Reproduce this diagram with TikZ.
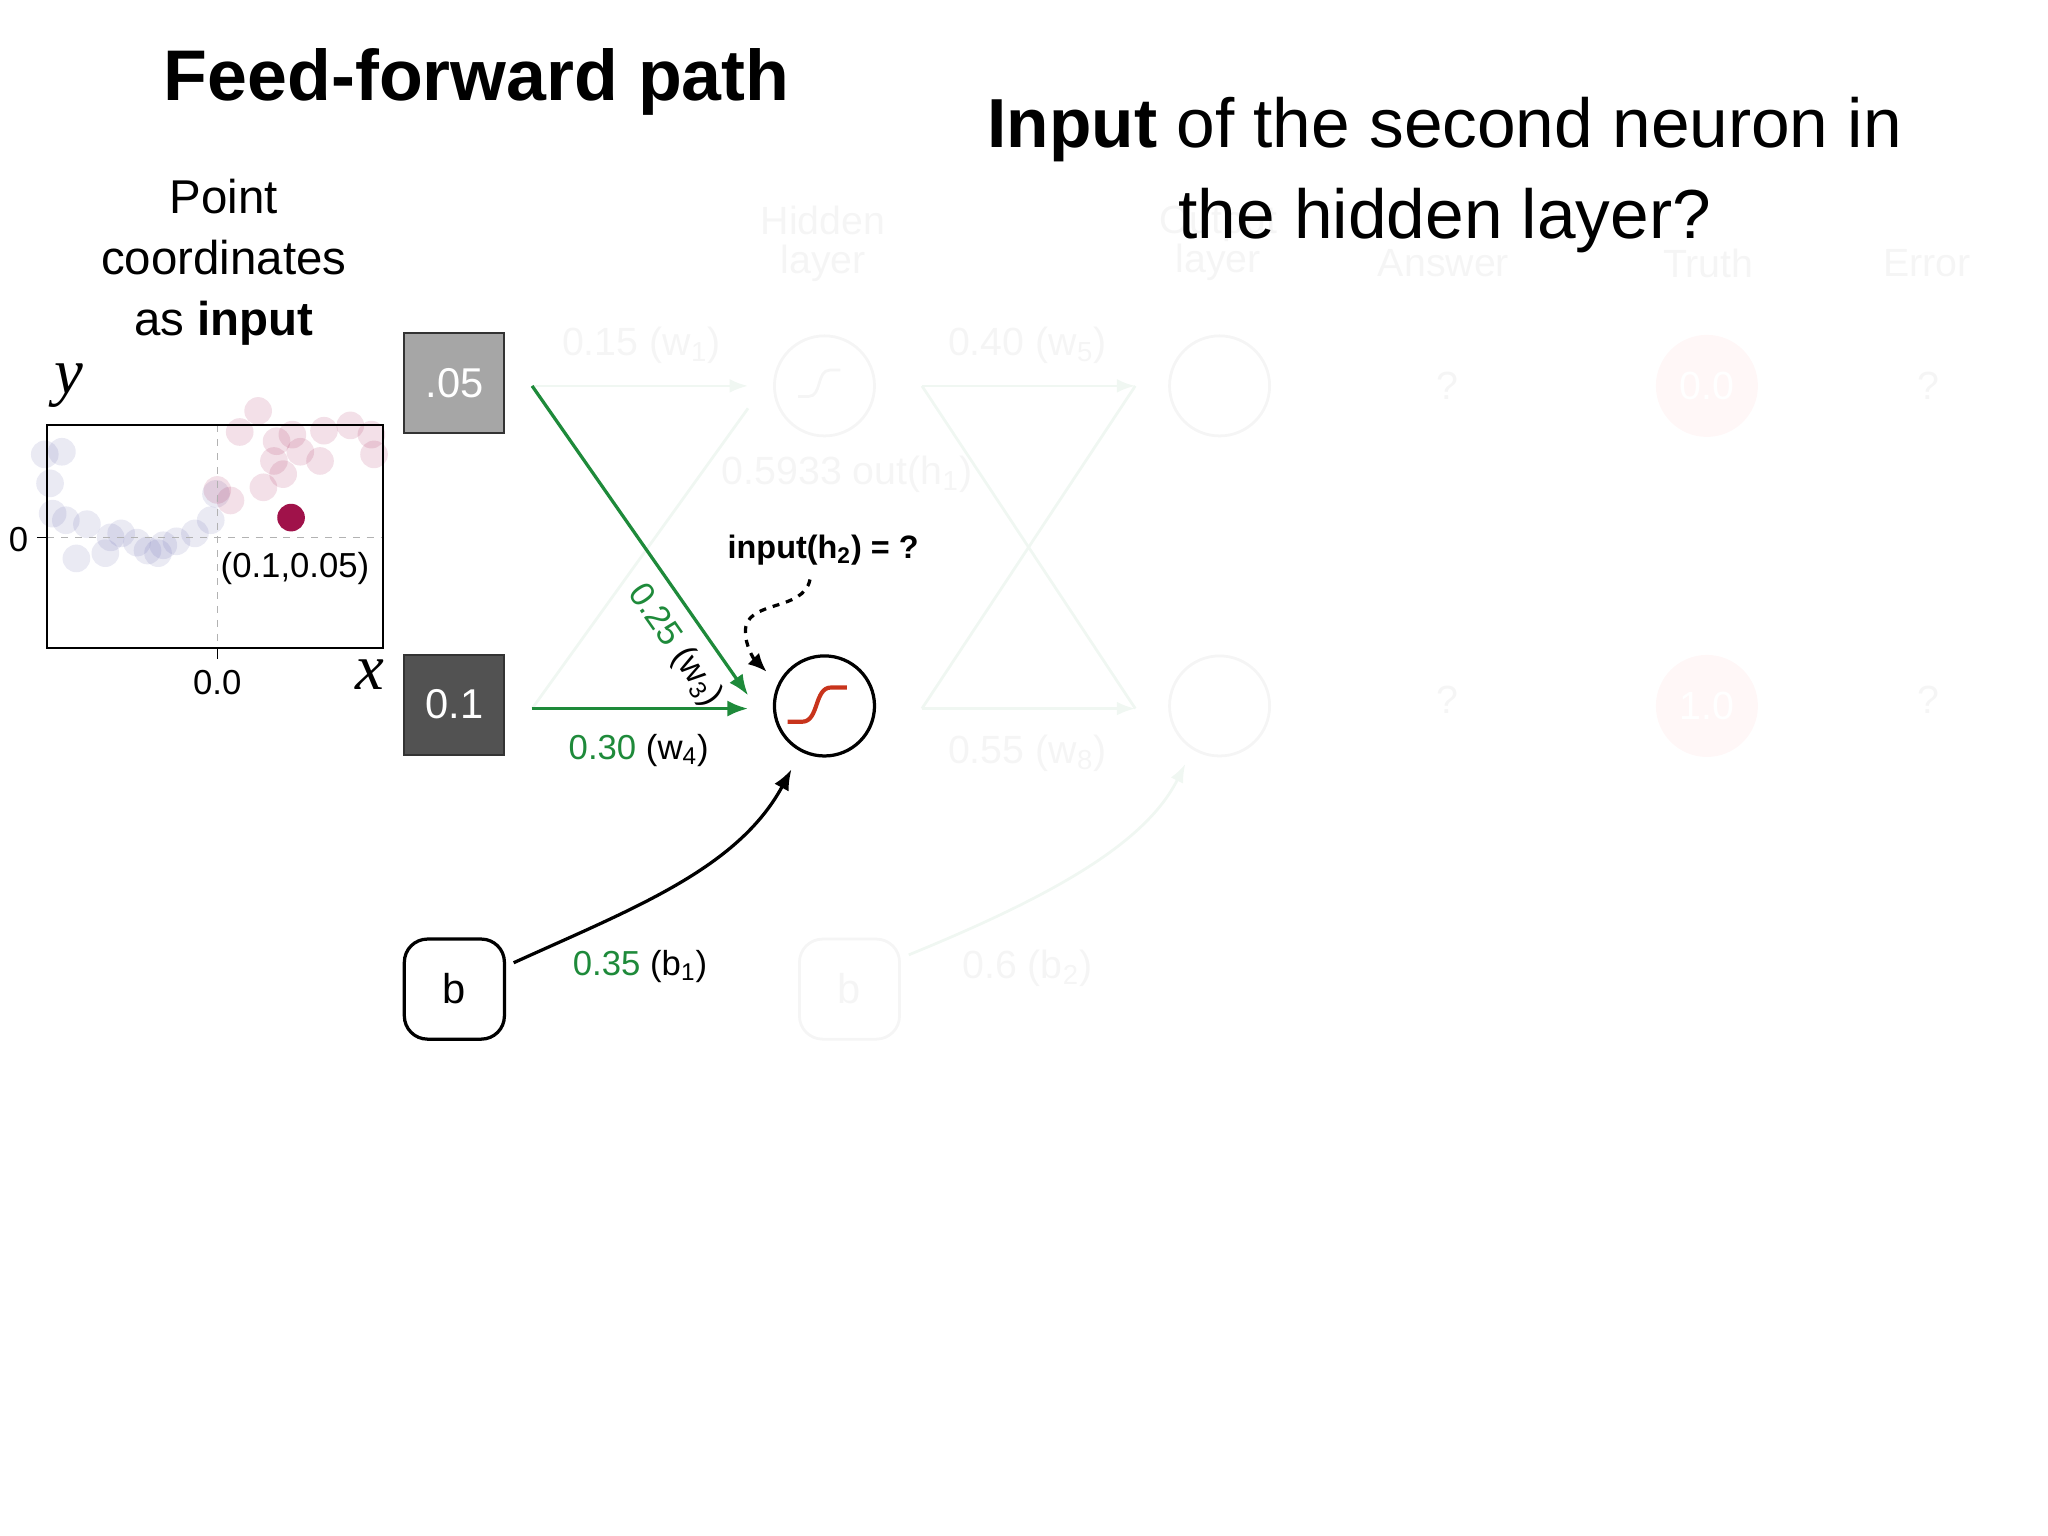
\documentclass[tikz,border=0pt]{standalone}
\usepackage{fontspec}
\setmainfont{Liberation Sans}
\usetikzlibrary{arrows.meta,calc}
\definecolor{gr}{HTML}{1E8A3A}
\definecolor{dred}{HTML}{A0124A}
\definecolor{sig}{HTML}{C8341C}
\definecolor{fade}{HTML}{F5F5F5}
\definecolor{fadeg}{HTML}{F0F7F2}
\newcommand{\fs}[1]{\fontsize{#1}{#1}\selectfont}
\tikzset{
 u/.style={x=0.02cm,y=-0.02cm},
 inbox/.style={draw=black!80,line width=0.8pt,minimum size=1.52cm,text=white,font=\fs{18}},
 neuron/.style={circle,draw,line width=1.4pt,minimum size=1.52cm},
 fneuron/.style={circle,draw=fade,line width=1.2pt,minimum size=1.52cm},
 garrow/.style={draw=gr,line width=1.4pt,-{Latex[length=9pt,width=7pt]}},
 farrow/.style={draw=fadeg,line width=1.2pt,-{Latex[length=8pt,width=6pt]}},
 lab/.style={font=\fs{15}},
 flab/.style={font=\fs{17},text=fade},
 dotp/.style={circle,fill=blue!30!gray,opacity=0.13,minimum size=0.42cm,inner sep=0},
 dotr/.style={circle,fill=dred,opacity=0.13,minimum size=0.42cm,inner sep=0},
}
\begin{document}
\begin{tikzpicture}[u]
\useasboundingbox (0,0) rectangle (1555,1166);
% faded background network
\node[flab,align=center] (hl) at (625,185) {Hidden\\layer};
\node[flab,align=center] (ol) at (925,185) {Output\\layer};
\node[flab] (ans) at (1096,200) {Answer};
\node[flab] (tru) at (1297,200) {Truth};
\node[flab] (err) at (1463,200) {Error};
\node[fneuron] (h1) at (626,293) {};
\draw[fade,line width=1.2pt] ($(h1)+(-20,8)$) -- ++(8,0) .. controls ++(10,0) and ++(-10,0) .. ++(16,-20) -- ++(8,0);
\node[fneuron] (o1) at (926,293) {};
\node[fneuron] (o2) at (926,536) {};
\node[flab] (q1) at (1099,293) {?};
\node[flab] (q2) at (1099,531) {?};
\node[flab] (q3) at (1464,293) {?};
\node[flab] (q4) at (1464,531) {?};
\node[circle,fill=red!3,minimum size=1.55cm,text=white,font=\fs{17}] (t1) at (1296,293) {0.0};
\node[circle,fill=red!3,minimum size=1.55cm,text=white,font=\fs{17}] (t2) at (1296,536) {1.0};
\node[draw=fade,rounded corners=10pt,line width=1.2pt,minimum size=1.52cm,font=\fs{18},text=fade] (b2) at (645,751) {b};
\coordinate (s1) at (404,293);
\coordinate (e1) at (568,293);
\draw[farrow] (s1) -- (e1);
\coordinate (s5) at (700,293); \coordinate (e5) at (862,293);
\coordinate (s8) at (700,538); \coordinate (e8) at (862,538);
\draw[farrow] (s5) -- (e5);
\draw[farrow] (s8) -- (e8);
\draw[fadeg,line width=1.2pt] (s5) -- (e8);
\draw[fadeg,line width=1.2pt] (s8) -- (e5);
\draw[fadeg,line width=1.2pt] (404,538) -- (568,310);
\draw[farrow] (690,725) .. controls (800,680) and (870,640) .. (900,580);
\node[flab] at (487,262) {0.15 (w\textsubscript{1})};
\node[flab] at (780,262) {0.40 (w\textsubscript{5})};
\node[flab] at (780,572) {0.55 (w\textsubscript{8})};
\node[flab] at (780,735) {0.6 (b\textsubscript{2})};
\node[flab] at (643,360) {0.5933 out(h\textsubscript{1})};
% titles
\node[font=\bfseries\fs{31}] (t) at (362,62) {Feed-forward path};
\node[font=\fs{30},align=center] (q) at (1097,133) {\textbf{Input} of the second neuron in\\[9pt]the hidden layer?};
\node[font=\fs{20.5},align=center] (pc) at (170,199) {Point\\[6pt]coordinates\\[6pt]as \textbf{input}};
% plot
\foreach \p in {(34,345),(47,343),(38,367),(40,390),(50,395),(66,398),(58,424),(80,420),(92,405),(104,412),(112,418),(124,414),(134,411),(148,405),(84,408),(120,420),(160,395),(164,375)}{\node[dotp] at \p {};}
\foreach \p in {(165,372),(175,380),(182,328),(196,312),(210,335),(222,330),(246,327),(266,323),(284,345),(243,350),(208,350),(200,370),(215,360),(228,343),(282,330)}{\node[dotr] at \p {};}
\draw[gray!60,dashed,line width=0.5pt] (36,408) -- (291,408);
\draw[gray!60,dashed,line width=0.5pt] (165,323) -- (165,492);
\draw[line width=0.9pt] (36,323) rectangle (291,492);
\draw[line width=0.7pt] (28,408) -- (36,408);
\draw[line width=0.7pt] (165,492) -- (165,500);
\node[font=\fs{15}] at (14,410) {0};
\node[font=\fs{15}] at (165,518) {0.0};
\node[font=\itshape\fs{28},inner sep=0] at (52,293) {\fontspec{Liberation Serif}y};
\node[font=\itshape\fs{28},inner sep=0] at (281,512) {\fontspec{Liberation Serif}x};
\node[circle,fill=dred,minimum size=0.42cm,inner sep=0] (pt) at (221,393) {};
\node[font=\fs{15}] at (224,432) {(0.1,0.05)};
% inputs
\node[inbox,fill=black!35] (i1) at (345,291) {.05};
\node[inbox,fill=black!68] (i2) at (345,535) {0.1};
\node[draw,line width=1.4pt,rounded corners=10pt,minimum size=1.52cm,font=\fs{18}] (b) at (345,751) {b};
% neuron
\node[neuron] (h2) at (626,536) {};
\draw[sig,line width=1.8pt] ($(h2)+(-28,12)$) -- ++(11,0) .. controls ++(13,0) and ++(-13,0) .. ++(22,-26) -- ++(12,0);
% connectors
\coordinate (a1) at (404,293);
\coordinate (a1e) at (568,528);
\coordinate (a2) at (404,538);
\coordinate (a2e) at (568,538);
\draw[garrow] (a1) -- node[pos=0.78,sloped,below,lab,text=gr,inner sep=6pt] {0.25 \textcolor{black}{(w\textsubscript{3})}} (a1e);
\draw[garrow] (a2) -- (a2e);
\node[lab] at (485,570) {\textcolor{gr}{0.30} (w\textsubscript{4})};
\coordinate (bs) at (390,731);
\coordinate (be) at (601,584);
\draw[line width=1.4pt,-{Latex[length=9pt,width=7pt]}] (bs) .. controls (480,690) and (560,660) .. (be);
\node[lab] at (486,734) {\textcolor{gr}{0.35} (b\textsubscript{1})};
\node[font=\bfseries\fs{14}] (ih) at (625,418) {input(h\textsubscript{2}) = ?};
\coordinate (ds) at (615,440);
\coordinate (de) at (582,510);
\draw[line width=1.4pt,dash pattern=on 3pt off 3pt,-{Latex[length=8pt,width=7pt]}] (ds) .. controls (610,465) and (565,455) .. (566,480) .. controls (566,490) and (572,500) .. (de);
\end{tikzpicture}
\end{document}
